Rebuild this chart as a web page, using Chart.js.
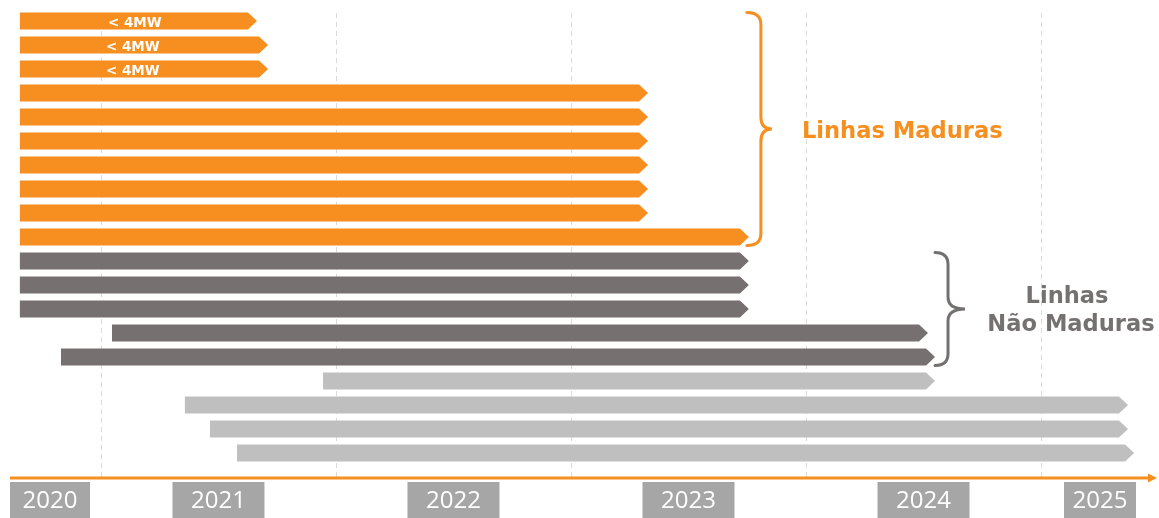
<!DOCTYPE html>
<html>
<head>
<meta charset="utf-8">
<script src="https://cdn.jsdelivr.net/npm/chart.js@4.4.1/dist/chart.umd.min.js"></script>
<style>
  html, body { margin: 0; padding: 0; background: #fff; }
  #wrap { width: 1159px; height: 518px; position: relative; }
</style>
</head>
<body>
<div id="wrap"><canvas id="chart"></canvas></div>
<script>
// one row per line, top to bottom
var rowLabels = ['L1', 'L2', 'L3', 'L4', 'L5', 'L6', 'L7', 'L8', 'L9', 'L10',
  'L11', 'L12', 'L13', 'L14', 'L15', 'L16', 'L17', 'L18', 'L19'];
var starts = [2020.655, 2020.655, 2020.655, 2020.655, 2020.655, 2020.655, 2020.655, 2020.655, 2020.655, 2020.655,
  2020.655, 2020.655, 2020.655, 2021.047, 2020.830, 2021.945, 2021.357, 2021.464, 2021.579];
var ends = [2021.664, 2021.711, 2021.711, 2023.328, 2023.328, 2023.328, 2023.328, 2023.328, 2023.328, 2023.757,
  2023.757, 2023.757, 2023.757, 2024.519, 2024.549, 2024.549, 2025.370, 2025.370, 2025.396];
var groups = ['madura', 'madura', 'madura', 'madura', 'madura', 'madura', 'madura', 'madura', 'madura', 'madura',
  'naoMadura', 'naoMadura', 'naoMadura', 'naoMadura', 'naoMadura', 'outra', 'outra', 'outra', 'outra'];
var notes = ['< 4MW', '< 4MW', '< 4MW', '', '', '', '', '', '', '', '', '', '', '', '', '', '', '', ''];
var years = [2020, 2021, 2022, 2023, 2024, 2025];
var xMin = 2020.613, xMax = 2025.485;

var groupColors = { madura: '#f68f20', naoMadura: '#767170', outra: '#bfbfbf' };
var orange = '#f68f20';
var darkGray = '#747070';

function drawBrace(ctx, xOuter, xMid, xTip, yTop, yBot, r, color) {
  var yc = (yTop + yBot) / 2;
  ctx.save();
  ctx.strokeStyle = color;
  ctx.lineWidth = 3;
  ctx.lineCap = 'round';
  ctx.beginPath();
  ctx.moveTo(xOuter, yTop);
  ctx.quadraticCurveTo(xMid, yTop, xMid, yTop + r);
  ctx.lineTo(xMid, yc - r);
  ctx.quadraticCurveTo(xMid, yc, xTip, yc);
  ctx.quadraticCurveTo(xMid, yc, xMid, yc + r);
  ctx.lineTo(xMid, yBot - r);
  ctx.quadraticCurveTo(xMid, yBot, xOuter, yBot);
  ctx.stroke();
  ctx.restore();
}

var timelinePlugin = {
  id: 'timeline',
  beforeDatasetsDraw: function(chart) {
    var ctx = chart.ctx, x = chart.scales.x, area = chart.chartArea;
    ctx.save();
    ctx.strokeStyle = '#dadada';
    ctx.lineWidth = 1;
    ctx.setLineDash([5, 4]);
    years.forEach(function(yr) {
      if (yr <= xMin) return;
      var px = Math.round(x.getPixelForValue(yr)) + 0.5;
      ctx.beginPath();
      ctx.moveTo(px, area.top + 4);
      ctx.lineTo(px, area.bottom + 12);
      ctx.stroke();
    });
    ctx.restore();
  },
  afterDatasetsDraw: function(chart) {
    var ctx = chart.ctx, x = chart.scales.x, area = chart.chartArea;
    var meta = chart.getDatasetMeta(0);
    var arrow = 9;
    ctx.save();
    meta.data.forEach(function(el, i) {
      var p = el.getProps(['x', 'y', 'base', 'height'], true);
      var top = p.y - p.height / 2, bot = p.y + p.height / 2;
      ctx.fillStyle = groupColors[groups[i]];
      ctx.beginPath();
      ctx.moveTo(p.base, top);
      ctx.lineTo(p.x - arrow, top);
      ctx.lineTo(p.x, p.y);
      ctx.lineTo(p.x - arrow, bot);
      ctx.lineTo(p.base, bot);
      ctx.closePath();
      ctx.fill();
      if (notes[i]) {
        ctx.fillStyle = '#ffffff';
        ctx.font = 'bold 13.5px "DejaVu Sans", Verdana, sans-serif';
        ctx.textAlign = 'left';
        ctx.textBaseline = 'alphabetic';
        ctx.fillText(notes[i], x.getPixelForValue(2021) + (i === 0 ? 7 : 5), p.y + 5.5);
      }
    });

    // braces and group names
    var el0 = meta.data[0], el9 = meta.data[9], el10 = meta.data[10], el14 = meta.data[14];
    var tipM = x.getPixelForValue(ends[9]);
    drawBrace(ctx, tipM - 2, tipM + 12, tipM + 23,
      el0.y - el0.height / 2, el9.y + el9.height / 2, 12, orange);
    var tipN = x.getPixelForValue(ends[14]);
    drawBrace(ctx, tipN, tipN + 13, tipN + 30,
      el10.y - el10.height / 2, el14.y + el14.height / 2, 12, darkGray);

    ctx.font = 'bold 22.6px "DejaVu Sans", Verdana, sans-serif';
    ctx.textBaseline = 'alphabetic';
    ctx.fillStyle = orange;
    ctx.textAlign = 'left';
    ctx.fillText('Linhas Maduras', tipM + 53, (el0.y + el9.y) / 2 + 9);
    ctx.fillStyle = '#767171';
    ctx.textAlign = 'center';
    var cy = (el10.y + el14.y) / 2;
    ctx.fillText('Linhas', tipN + 132, cy - 6);
    ctx.fillText('Não Maduras', tipN + 136, cy + 22);
    ctx.restore();
  },
  afterDraw: function(chart) {
    var ctx = chart.ctx, x = chart.scales.x, area = chart.chartArea;
    var axisY = area.bottom + 13;
    ctx.save();
    // timeline axis
    ctx.strokeStyle = orange;
    ctx.fillStyle = orange;
    ctx.lineWidth = 3;
    ctx.beginPath();
    ctx.moveTo(area.left, axisY);
    ctx.lineTo(area.right - 5, axisY);
    ctx.stroke();
    ctx.beginPath();
    ctx.moveTo(area.right + 2, axisY);
    ctx.lineTo(area.right - 7, axisY - 4.5);
    ctx.lineTo(area.right - 7, axisY + 4.5);
    ctx.closePath();
    ctx.fill();

    // year boxes
    ctx.font = '24px "Open Sans", "Noto Sans", sans-serif';
    ctx.textAlign = 'center';
    ctx.textBaseline = 'middle';
    years.forEach(function(yr) {
      var c = x.getPixelForValue(yr + 0.5);
      var l = c - 46, r = c + 46;
      if (l < area.left) { l = area.left; r = l + 80; }
      if (r > area.right - 18) { r = area.right - 19; l = r - 72; }
      ctx.fillStyle = '#a6a6a6';
      ctx.fillRect(l, axisY + 4, r - l, 40);
      ctx.fillStyle = '#ffffff';
      ctx.fillText(String(yr), (l + r) / 2, axisY + 23);
    });
    ctx.restore();
  }
};

new Chart(document.getElementById('chart'), {
  type: 'bar',
  data: {
    labels: rowLabels,
    datasets: [{
      data: starts.map(function(s, i) { return [s, ends[i]]; }),
      backgroundColor: 'rgba(0,0,0,0)',
      borderWidth: 0,
      barThickness: 17
    }]
  },
  options: {
    indexAxis: 'y',
    responsive: true,
    maintainAspectRatio: false,
    animation: false,
    layout: { padding: { left: 10, right: 4, top: 9, bottom: 53 } },
    plugins: { legend: { display: false }, tooltip: { enabled: false } },
    scales: {
      x: { type: 'linear', min: xMin, max: xMax, display: false },
      y: { display: false }
    }
  },
  plugins: [timelinePlugin]
});
</script>
</body>
</html>
